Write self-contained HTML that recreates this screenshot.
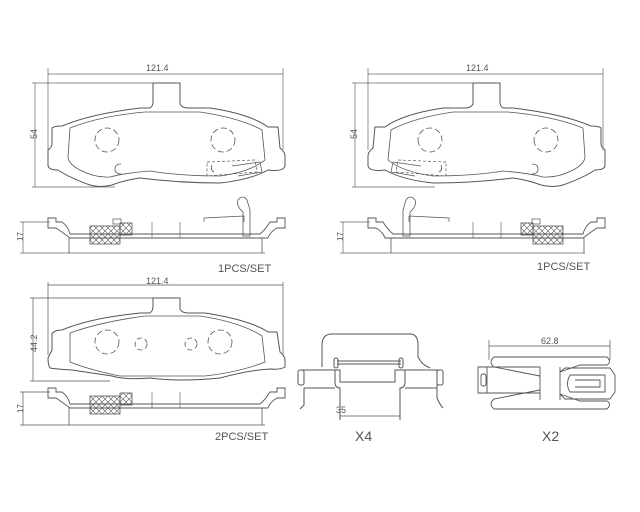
<!DOCTYPE html>
<html><head><meta charset="utf-8"><style>
html,body{margin:0;padding:0;background:#fff}
svg{display:block}
text{font-family:"Liberation Sans",sans-serif;fill:#555}
</style></head><body>
<svg width="640" height="512" viewBox="0 0 640 512" xmlns="http://www.w3.org/2000/svg">
<defs>
<pattern id="hx" width="6" height="6" patternUnits="userSpaceOnUse">
<path d="M0,0L6,6M6,0L0,6" stroke="#555" stroke-width="0.6"/>
</pattern>
<g id="dims">
<line x1="48" y1="74" x2="283" y2="74" stroke="#666" stroke-width="0.7"/>
<line x1="48" y1="68" x2="48" y2="150" stroke="#666" stroke-width="0.7"/>
<line x1="283" y1="68" x2="283" y2="150" stroke="#666" stroke-width="0.7"/>
<line x1="35" y1="83" x2="35" y2="187" stroke="#666" stroke-width="0.7"/>
<line x1="32" y1="83" x2="160" y2="83" stroke="#666" stroke-width="0.7"/>
<line x1="32" y1="187" x2="115" y2="187" stroke="#666" stroke-width="0.7"/>
<line x1="23" y1="222" x2="23" y2="253" stroke="#666" stroke-width="0.7"/>
<line x1="20" y1="222" x2="50" y2="222" stroke="#666" stroke-width="0.7"/>
<line x1="20" y1="253" x2="265" y2="253" stroke="#666" stroke-width="0.7"/>
</g>
<g id="pad">
<path d="M153,83 L180,83 L180,104 Q182,108 188,108 L210,108 Q250,114 268,127 L278,127 L280,148 Q285,152 285,156 L285,166 Q283,172 268,170 Q250,180 220,183 Q180,183 140,178 Q125,180 112,185 Q100,188 90,185 Q70,178 58,170 Q48,170 48,165 L48,150 Q52,147 52,144 L52,128 Q54,126 62,126 Q90,114 140,108 L150,108 Q153,106 153,102 Z" fill="none" stroke="#555" stroke-width="1"/>
<path d="M70,128 Q100,116 145,112 L200,112 Q240,118 262,130 L265,160 Q250,172 220,176 Q180,176 150,171 Q125,173 110,177 Q95,178 80,170 Q70,165 68,158 Z" fill="none" stroke="#555" stroke-width="0.8"/>
<circle cx="107" cy="140" r="12" fill="none" stroke="#555" stroke-width="0.8" stroke-dasharray="6,3"/>
<circle cx="223" cy="140" r="12" fill="none" stroke="#555" stroke-width="0.8" stroke-dasharray="6,3"/>
<path d="M121,164 Q115,164 115,169 Q115,174 121,174" fill="none" stroke="#555" stroke-width="0.8"/>
<path d="M207,162 L255,160 L257,172 L207,176 Z" fill="none" stroke="#555" stroke-width="0.7" stroke-dasharray="3,2"/>
<path d="M232,166 L260,162 L262,172 L238,176" fill="none" stroke="#555" stroke-width="0.7"/>
<path d="M212,165 Q210,170 214,172" fill="none" stroke="#555" stroke-width="0.8"/>
<path d="M48,218 L56,218 L56,222 L62,222 Q68,226 70,234 L260,234 Q265,230 270,222 L277,222 L277,218 L285,218 L285,228 L277,228 Q270,232 268,238 L70,238 Q62,232 56,228 L48,228 Z" fill="none" stroke="#555" stroke-width="0.9"/>
<line x1="69" y1="238" x2="69" y2="253" stroke="#555" stroke-width="0.8"/>
<line x1="262" y1="238" x2="262" y2="253" stroke="#555" stroke-width="0.8"/>
<line x1="152" y1="222" x2="152" y2="238" stroke="#555" stroke-width="0.6"/>
<line x1="180" y1="222" x2="180" y2="238" stroke="#555" stroke-width="0.6"/>
<rect x="90" y="226" width="30" height="18" fill="url(#hx)" stroke="#555" stroke-width="0.8"/>
<rect x="120" y="223" width="12" height="12" fill="url(#hx)" stroke="#555" stroke-width="0.8"/>
<rect x="113" y="219" width="8" height="5" fill="none" stroke="#555" stroke-width="0.7"/>
<path d="M204,222 L204,218 L244,216 L244,222" fill="none" stroke="#555" stroke-width="0.7"/>
<path d="M243,236 L243,212 Q236,206 238,200 Q243,194 247,200 L250,210 L250,236 Z" fill="none" stroke="#555" stroke-width="0.8"/>
</g>
</defs>

<use href="#dims"/>
<use href="#pad"/>
<g transform="translate(320,0)"><use href="#dims"/></g>
<g transform="translate(653,0) scale(-1,1)"><use href="#pad"/></g>

<text x="146" y="71" font-size="9">121.4</text>
<text x="466" y="71" font-size="9">121.4</text>
<text x="218" y="272" font-size="11">1PCS/SET</text>
<text x="537" y="270" font-size="11">1PCS/SET</text>
<text transform="translate(37,139) rotate(-90)" font-size="9">54</text>
<text transform="translate(357,139) rotate(-90)" font-size="9">54</text>
<text transform="translate(23,241) rotate(-90)" font-size="8">17</text>
<text transform="translate(343,241) rotate(-90)" font-size="8">17</text>

<!-- pad 3 -->
<g fill="none" stroke="#555" stroke-width="1">
<line x1="48" y1="285" x2="283" y2="285" stroke-width="0.7"/>
<line x1="48" y1="282" x2="48" y2="355" stroke-width="0.7"/>
<line x1="283" y1="282" x2="283" y2="355" stroke-width="0.7"/>
<line x1="33" y1="298" x2="33" y2="381" stroke-width="0.7"/>
<line x1="30" y1="298" x2="160" y2="298" stroke-width="0.7"/>
<line x1="30" y1="381" x2="110" y2="381" stroke-width="0.7"/>
<path d="M153,298 L180,298 L180,309 Q182,313 188,313 L205,313 Q250,320 268,332 L277,332 L280,352 Q285,356 285,360 L285,367 Q280,370 270,369 Q250,370 220,378 Q180,382 150,378 Q125,380 112,376 L72,370 Q55,369 50,368 Q48,365 48,358 L52,350 L52,334 Q54,330 62,330 Q90,318 140,313 L150,313 Q153,311 153,306 Z"/>
<path d="M70,333 Q100,322 145,316 L200,316 Q240,322 262,336 L265,362 Q240,372 205,376 L120,376 Q90,370 70,362 Z" stroke-width="0.8"/>
<circle cx="107" cy="342" r="12" stroke-dasharray="6,3" stroke-width="0.8"/>
<circle cx="220" cy="342" r="12" stroke-dasharray="6,3" stroke-width="0.8"/>
<circle cx="141" cy="344" r="6" stroke-dasharray="5,3" stroke-width="0.8"/>
<circle cx="191" cy="344" r="6" stroke-dasharray="5,3" stroke-width="0.8"/>
<line x1="23" y1="392" x2="23" y2="425" stroke-width="0.7"/>
<line x1="20" y1="392" x2="50" y2="392" stroke-width="0.7"/>
<line x1="20" y1="425" x2="265" y2="425" stroke-width="0.7"/>
<path d="M48,388 L56,388 L56,392 L62,392 Q68,396 70,404 L260,404 Q265,400 270,392 L277,392 L277,388 L285,388 L285,398 L277,398 Q270,402 268,408 L70,408 Q62,402 56,398 L48,398 Z" stroke-width="0.9"/>
<line x1="69" y1="408" x2="69" y2="425" stroke-width="0.8"/>
<line x1="262" y1="408" x2="262" y2="425" stroke-width="0.8"/>
<line x1="152" y1="392" x2="152" y2="408" stroke-width="0.6"/>
<line x1="180" y1="392" x2="180" y2="408" stroke-width="0.6"/>
<rect x="90" y="396" width="30" height="18" fill="url(#hx)" stroke-width="0.8"/>
<rect x="120" y="393" width="12" height="12" fill="url(#hx)" stroke-width="0.8"/>
</g>
<text x="146" y="284" font-size="9">121.4</text>
<text transform="translate(37,352) rotate(-90)" font-size="9">44.2</text>
<text transform="translate(23,413) rotate(-90)" font-size="8">17</text>
<text x="215" y="440" font-size="11">2PCS/SET</text>

<!-- X4 clip -->
<g fill="none" stroke="#555" stroke-width="1">
<path d="M322,367 L322,345 Q322,334 332,334 L410,334 Q418,334 418,345 L418,357 Q422,365 430,368"/>
<line x1="337" y1="361" x2="401" y2="361"/>
<line x1="337" y1="364" x2="401" y2="364"/>
<rect x="334" y="358" width="4" height="10" rx="2"/>
<rect x="399" y="358" width="4" height="10" rx="2"/>
<path d="M302,370 L340,370 L340,382 L395,382 L395,370 L437,370 L437,398 Q440,405 443,408"/>
<path d="M335,370 L335,382 Q335,388 340,388 L340,420"/>
<path d="M405,370 L405,382 Q405,388 400,388 L400,420"/>
<rect x="298" y="370" width="6" height="15" rx="2"/>
<rect x="437" y="370" width="6" height="15" rx="2"/>
<line x1="304" y1="388" x2="335" y2="388"/>
<line x1="405" y1="388" x2="437" y2="388"/>
<path d="M304,388 L304,405 Q302,407 300,409"/>
<line x1="340" y1="416" x2="400" y2="416" stroke-width="0.7"/>
</g>
<text x="336" y="413" font-size="9">35</text>
<text x="355" y="441" font-size="14">X4</text>

<!-- X2 clip -->
<g fill="none" stroke="#555" stroke-width="0.9">
<line x1="489" y1="346" x2="610" y2="346" stroke-width="0.7"/>
<line x1="489" y1="340" x2="489" y2="360" stroke-width="0.7"/>
<line x1="610" y1="340" x2="610" y2="360" stroke-width="0.7"/>
<path d="M494,357 L607,357 Q612,362 607,365 L580,365 L560,372 M494,357 Q488,362 494,367 L540,376"/>
<path d="M494,409 L607,409 Q612,404 607,401 L580,401 L560,394 M494,409 Q488,404 494,399 L540,390"/>
<path d="M540,367 L540,400 M560,367 L560,400"/>
<path d="M487,367 L540,367 M487,393 L540,393"/>
<path d="M487,367 L478,367 L478,393 L487,393 Z"/>
<rect x="481" y="374" width="5" height="12" rx="2"/>
<path d="M560,372 L565,368 L610,368 L615,375 L615,392 L610,399 L565,399 L560,394"/>
<path d="M570,375 L605,375 L605,392 L570,392 Q565,384 570,375"/>
<path d="M575,380 L600,380 L600,387 L575,387"/>
</g>
<text x="541" y="344" font-size="9">62.8</text>
<text x="542" y="441" font-size="14">X2</text>
</svg>
</body></html>
